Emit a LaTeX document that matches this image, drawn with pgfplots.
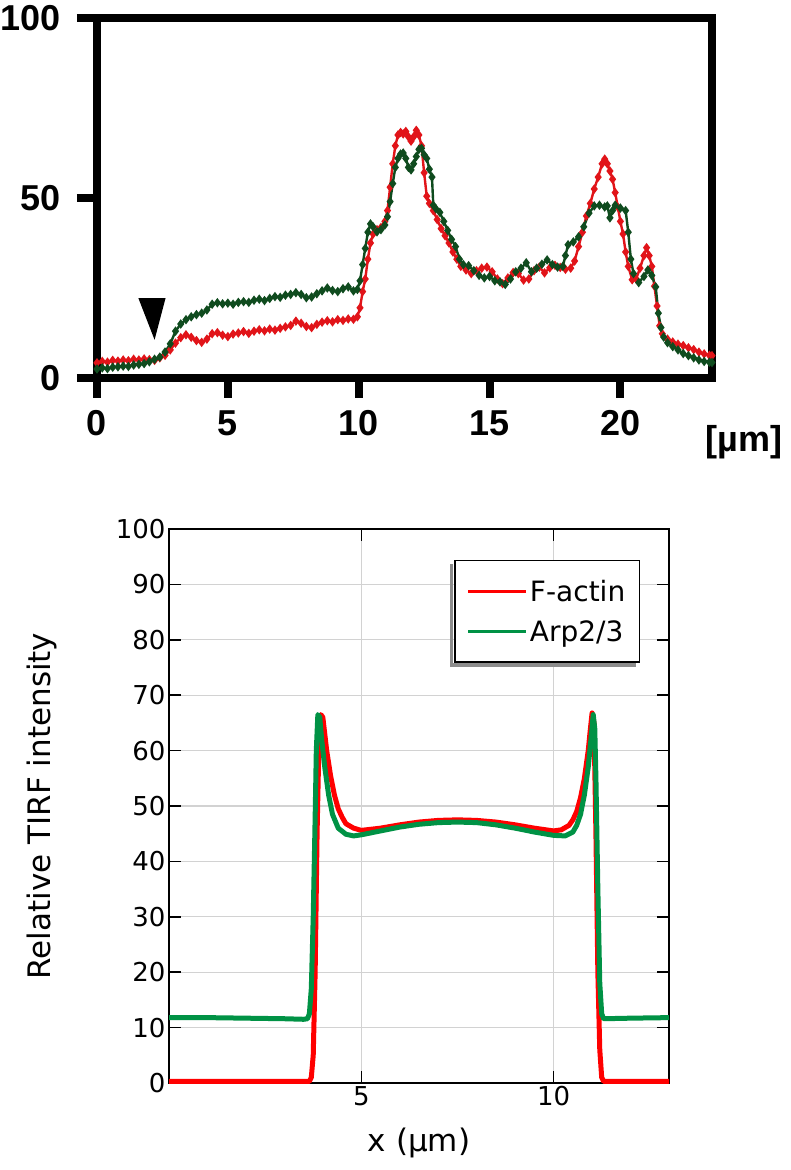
\documentclass[border=0pt]{standalone}
\usepackage{fontspec}
\setmainfont{Liberation Sans}
\newfontfamily\dejavu{DejaVu Sans}
\usepackage{pgfplots}
\pgfplotsset{compat=1.18}
\definecolor{topred}{RGB}{225,20,25}
\definecolor{topgreen}{RGB}{15,75,30}
\definecolor{botred}{RGB}{255,0,0}
\definecolor{botgreen}{RGB}{0,146,69}
\newcommand\topfont{\fontsize{36}{42}\selectfont\bfseries}
\newcommand\botfont{\dejavu\fontsize{26}{30}\selectfont}
\begin{document}
\begin{tikzpicture}
\path[use as bounding box] (0pt,0pt) rectangle (790pt,1170pt);
% ---------------- top panel ----------------
\begin{axis}[
  at={(97pt,792pt)}, anchor=south west, scale only axis,
  width=615pt, height=360pt,
  xmin=0, xmax=23.5, ymin=0, ymax=100,
  xtick={0,5,10,15,20}, ytick={0,50,100},
  axis line style={line width=8pt, line join=miter},
  tick style={black, line width=8pt},
  major tick length=20pt, tick align=outside, tick pos=left,
  /pgf/number format/assume math mode=true,
  tick label style={font=\topfont},
  yticklabel style={xshift=-13pt},
  xticklabel style={yshift=-9pt},
  xlabel={[µm]},
  xlabel style={font=\topfont, at={(axis description cs:1.052,-0.178)}, anchor=center},
]
\addplot[topred, line width=2.4pt, mark=diamond*, mark size=2.8pt] coordinates {
(0.0,4.2) (0.2,4.6) (0.4,4.4) (0.6,4.9) (0.8,4.7) (1.0,5.0) (1.2,4.8) (1.4,5.2) (1.6,5.0) (1.8,5.3)
(2.0,5.1) (2.2,4.9) (2.4,5.6) (2.6,6.3) (2.8,7.8) (3.0,9.7) (3.2,11.2) (3.4,12.0) (3.6,11.3) (3.8,10.4)
(4.0,9.9) (4.2,10.8) (4.4,12.3) (4.6,12.6) (4.8,11.9) (5.0,11.5) (5.2,12.2) (5.4,12.5) (5.6,12.9) (5.8,12.4)
(6.0,13.0) (6.2,13.4) (6.4,13.1) (6.6,13.6) (6.8,13.3) (7.0,13.8) (7.2,14.2) (7.4,14.6) (7.6,15.8) (7.8,15.2)
(8.0,14.3) (8.2,14.0) (8.4,14.9) (8.6,15.5) (8.8,15.9) (9.0,15.6) (9.2,16.2) (9.4,16.0) (9.6,16.4) (9.8,16.3)
(9.95,17.0) (10.05,19.5) (10.15,24) (10.25,27.5) (10.35,33) (10.45,37.5) (10.55,40) (10.7,41.2) (10.85,41.8)
(11.0,43.5) (11.1,46.5) (11.2,53) (11.3,59.5) (11.4,64.5) (11.5,67.5) (11.6,68.2) (11.7,67.8) (11.8,68.5)
(11.9,67.0) (12.0,65.8) (12.1,67.0) (12.2,68.8) (12.3,67.5) (12.4,64.5) (12.5,57) (12.6,50.5) (12.7,48.5)
(12.85,46.5) (13.0,44) (13.15,41.5) (13.3,39.5) (13.45,37.5) (13.6,35) (13.75,33) (13.9,31) (14.1,30)
(14.3,29) (14.5,29.8) (14.7,30.5) (14.9,30.8) (15.1,29.5) (15.3,27.5) (15.5,26.2) (15.7,27.8) (15.9,29.3)
(16.1,29.0) (16.3,27.2) (16.5,27.5) (16.7,29.8) (16.9,30.8) (17.1,29.2) (17.3,30.6) (17.5,31.3) (17.7,30.7)
(17.9,30.2) (18.1,30.5) (18.25,32.5) (18.4,36.5) (18.55,40.5) (18.7,45) (18.85,48.5) (19.0,52.5) (19.15,55.8)
(19.3,59.5) (19.4,60.8) (19.5,59.5) (19.6,57.5) (19.7,55.2) (19.8,51.5) (19.9,47.5) (20.0,43.5) (20.1,40)
(20.2,35) (20.3,31) (20.45,27.3) (20.6,27.5) (20.75,30.5) (20.9,34) (21.0,36.2) (21.1,34) (21.2,31)
(21.3,25.5) (21.4,20) (21.5,14.5) (21.6,12.3) (21.8,10.8) (22.0,10.0) (22.2,9.4) (22.4,9.0) (22.6,8.4)
(22.8,7.9) (23.0,7.2) (23.2,6.7) (23.4,6.3) (23.5,6.2)
};
\addplot[topgreen, line width=2.4pt, mark=diamond*, mark size=2.8pt] coordinates {
(0.0,2.5) (0.2,2.8) (0.4,2.6) (0.6,3.0) (0.8,3.1) (1.0,3.3) (1.2,3.2) (1.4,3.6) (1.6,3.8) (1.8,4.0)
(2.0,4.5) (2.2,5.2) (2.4,5.8) (2.6,7.2) (2.8,9.5) (3.0,13.0) (3.2,15.0) (3.4,16.2) (3.6,17.0) (3.8,17.6)
(4.0,18.0) (4.2,18.9) (4.4,20.5) (4.6,20.9) (4.8,20.6) (5.0,20.8) (5.2,20.5) (5.4,21.0) (5.6,21.2) (5.8,21.0)
(6.0,21.6) (6.2,21.9) (6.4,21.5) (6.6,22.1) (6.8,22.6) (7.0,22.4) (7.2,23.0) (7.4,23.2) (7.6,23.7) (7.8,23.2)
(8.0,22.3) (8.2,22.5) (8.4,23.4) (8.6,24.2) (8.8,25.0) (9.0,24.3) (9.2,24.0) (9.4,24.8) (9.6,25.3) (9.8,24.2)
(9.95,24.6) (10.05,27) (10.15,31.5) (10.25,36) (10.35,40.5) (10.45,42.8) (10.55,42.0) (10.7,40.6) (10.85,41.2)
(11.0,42.5) (11.1,44.8) (11.2,49) (11.3,54) (11.4,58.5) (11.5,61) (11.6,62.2) (11.7,62.5) (11.8,61.0)
(11.9,58.5) (12.0,57.8) (12.1,59.5) (12.2,61.5) (12.3,63.5) (12.4,63.8) (12.5,62) (12.6,61) (12.7,58)
(12.8,55.8) (12.85,48) (12.95,47) (13.1,46) (13.25,43.5) (13.4,41) (13.55,38.5) (13.7,36.5) (13.85,33)
(14.0,31.5) (14.2,31.2) (14.4,29.8) (14.6,28.5) (14.8,27.8) (15.0,28.2) (15.2,27.0) (15.4,26.7) (15.6,26.0)
(15.8,27.5) (16.0,29.5) (16.2,30.5) (16.4,32.0) (16.6,29.5) (16.8,30.5) (17.0,31.6) (17.2,32.8) (17.4,31.5)
(17.6,30.8) (17.8,31.0) (17.9,34.0) (18.0,37.0) (18.2,37.8) (18.4,39.2) (18.6,42.0) (18.8,45.8) (19.0,47.8)
(19.2,48.0) (19.4,47.5) (19.5,47.8) (19.6,44.5) (19.7,46.5) (19.8,48.0) (20.0,47.2) (20.2,46.5) (20.3,40.5)
(20.4,33) (20.5,29) (20.7,26.5) (20.9,28.2) (21.05,30) (21.2,28.5) (21.35,25.3) (21.45,18) (21.55,14)
(21.65,11.4) (21.8,9.8) (22.0,8.7) (22.2,7.8) (22.4,6.8) (22.6,6.2) (22.8,5.6) (23.0,5.0) (23.2,4.6)
(23.4,4.4) (23.5,4.3)
};
\addplot[fill=black, draw=none] coordinates {(1.58,22.2) (2.62,22.2) (2.2,10.6)} -- cycle;
\end{axis}
% ---------------- bottom panel ----------------
\begin{axis}[
  at={(169pt,87pt)}, anchor=south west, scale only axis,
  width=500pt, height=554pt,
  xmin=0, xmax=13, ymin=0, ymax=100,
  xtick={5,10}, ytick={0,10,...,100},
  grid=major, grid style={gray!35, line width=1.2pt},
  axis line style={line width=1.5pt},
  tick style={black, line width=1.5pt}, major tick length=12pt,
  /pgf/number format/assume math mode=true,
  tick label style={font=\botfont},
  xlabel={x (µm)}, ylabel={Relative TIRF intensity},
  xlabel style={font=\dejavu\fontsize{31}{36}\selectfont, at={(axis description cs:0.5,-0.108)}, anchor=center},
  ylabel style={font=\dejavu\fontsize{31}{36}\selectfont, at={(axis description cs:-0.255,0.5)}, anchor=center},
  legend style={name=botleg, font=\dejavu\fontsize{28}{32}\selectfont, at={(axis description cs:1,1)}, anchor=north east,
     xshift=-29pt, yshift=-31pt, draw=black, line width=1.5pt, inner xsep=12pt, inner ysep=17pt,
     row sep=14pt, /tikz/every even column/.append style={column sep=5pt}},
  legend cell align=left,
]
\addplot[botred, line width=5pt, line join=round, legend image code/.code={\draw[botred, line width=3pt] (0pt,0pt) -- (58pt,0pt);}] coordinates {
(0,0.3) (1,0.3) (2,0.3) (3,0.3) (3.65,0.3) (3.7,1) (3.75,5) (3.8,20) (3.85,45) (3.9,62) (3.95,66.5)
(4.0,66) (4.05,63) (4.1,60) (4.2,55.5) (4.3,52) (4.4,49.5) (4.5,48) (4.6,46.8) (4.8,46) (5.0,45.6)
(5.5,46) (6.0,46.6) (6.5,47.1) (7.0,47.4) (7.5,47.5) (8.0,47.4) (8.5,47.1) (9.0,46.6) (9.5,46.0)
(10.0,45.5) (10.2,45.7) (10.4,46.5) (10.5,47.5) (10.6,49) (10.7,51.5) (10.8,55) (10.9,60) (10.95,63.5)
(11.0,66.8) (11.05,65) (11.1,45) (11.15,20) (11.2,6) (11.25,1) (11.3,0.3) (12,0.3) (13,0.3)
};
\addlegendentry{F-actin}
\addplot[botgreen, line width=5pt, line join=round, legend image code/.code={\draw[botgreen, line width=3pt] (0pt,0pt) -- (58pt,0pt);}] coordinates {
(0,11.8) (1,11.8) (2,11.7) (3,11.6) (3.5,11.5) (3.6,11.6) (3.65,12.5) (3.7,17) (3.75,30) (3.8,48)
(3.83,60) (3.87,66.5) (3.92,66) (3.97,62) (4.05,57) (4.15,52) (4.25,48.5) (4.4,46) (4.6,44.9) (4.8,44.6)
(5.0,44.8) (5.5,45.5) (6.0,46.2) (6.5,46.7) (7.0,47.0) (7.5,47.1) (8.0,47.0) (8.5,46.6) (9.0,46.0)
(9.5,45.3) (10.0,44.7) (10.3,44.6) (10.5,45.3) (10.6,46.5) (10.7,48.5) (10.8,52) (10.9,57) (10.97,62)
(11.03,66.5) (11.07,64) (11.1,55) (11.15,35) (11.2,18) (11.25,12.5) (11.3,11.6) (12,11.7) (13,11.8)
};
\addlegendentry{Arp2/3}
\end{axis}
\fill[black!45] ([xshift=-4.5pt,yshift=-4.5pt]botleg.south west) rectangle ([xshift=-0.75pt,yshift=-4.5pt]botleg.north west);
\fill[black!45] ([xshift=-4.5pt,yshift=-4.5pt]botleg.south west) rectangle ([xshift=-4.5pt,yshift=-0.75pt]botleg.south east);
\end{tikzpicture}
\end{document}
